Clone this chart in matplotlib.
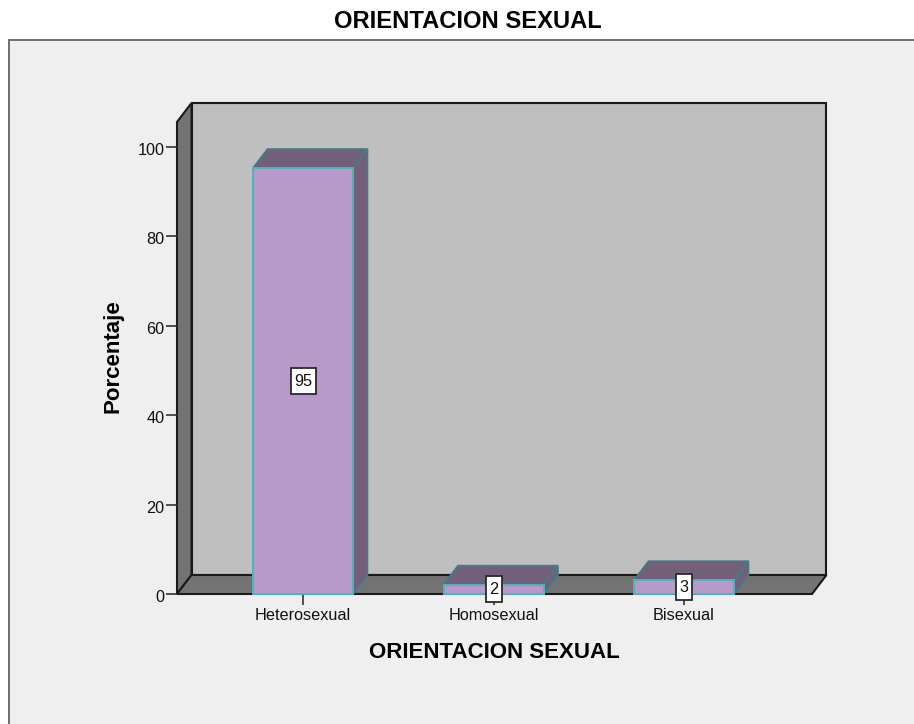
import matplotlib
matplotlib.use("Agg")
import matplotlib.pyplot as plt
from matplotlib.patches import Polygon, Rectangle
from matplotlib.transforms import ScaledTranslation

# datos
categorias = ["Heterosexual", "Homosexual", "Bisexual"]
alturas = [95.3, 2.1, 3.1]
etiquetas = ["95", "2", "3"]
marcas_y = [0, 20, 40, 60, 80, 100]

W, H = 914, 724
plt.rcParams["font.family"] = ["Liberation Sans", "DejaVu Sans"]

fig = plt.figure(figsize=(W / 100, H / 100), dpi=100, facecolor="white")

# marco gris del grafico
fondo = fig.add_axes([0, 0, 1, 1], zorder=0)
fondo.set_xlim(0, W)
fondo.set_ylim(H, 0)
fondo.axis("off")
fondo.add_patch(Rectangle((9, 40), W + 10, H, fc="#efefef", ec="#6e6e6e", lw=1.4))
fondo.text(468, 21, "ORIENTACION SEXUAL", ha="center", va="center", fontsize=17.1,
           fontweight="bold", color="black")

# ejes: cara frontal del cubo en pixeles
izq, der, abajo, arriba = 177, 812, 594, 122
ax = fig.add_axes([izq / W, 1 - abajo / H, (der - izq) / W, (abajo - arriba) / H], zorder=1)
px_x = 190.5
px_y = 4.47
ax.set_xlim((izq - 303) / px_x, (der - 303) / px_x)
ax.set_ylim(0, (abajo - arriba) / px_y)
ax.patch.set_visible(False)
for s in ax.spines.values():
    s.set_visible(False)

x0, x1 = ax.get_xlim()
y1 = ax.get_ylim()[1]
dx = 14.5 / px_x
dy = 19 / px_y
negro = "#1a1a1a"

# paredes y piso
ax.add_patch(Polygon([(x0 + dx, dy), (x1 + dx, dy), (x1 + dx, y1 + dy), (x0 + dx, y1 + dy)],
                     fc="#bfbfbf", ec=negro, lw=1.5, clip_on=False, zorder=1))
ax.add_patch(Polygon([(x0, 0), (x0 + dx, dy), (x0 + dx, y1 + dy), (x0, y1)],
                     fc="#737373", ec=negro, lw=1.5, clip_on=False, zorder=1))
ax.add_patch(Polygon([(x0, 0), (x1, 0), (x1 + dx, dy), (x0 + dx, dy)],
                     fc="#737373", ec=negro, lw=1.5, clip_on=False, zorder=1))

# barras 3D
ancho = 100 / px_x
borde = "#4fb3bd"
borde2 = "#3f7f88"
for i, h in enumerate(alturas):
    a, b = i - ancho / 2, i + ancho / 2
    ax.add_patch(Polygon([(a, h), (b, h), (b + dx, h + dy), (a + dx, h + dy)],
                         fc="#735f7a", ec=borde2, lw=1.2, clip_on=False, zorder=3))
    ax.add_patch(Polygon([(b, 0), (b + dx, dy), (b + dx, h + dy), (b, h)],
                         fc="#735f7a", ec=borde2, lw=1.2, clip_on=False, zorder=3))
    ax.bar(i, h, ancho, color="#b89ac8", edgecolor=borde, linewidth=1.4, zorder=4, clip_on=False)

# etiquetas de valor: caja blanca de 26 px de alto
for i, h in enumerate(alturas):
    caja_w = (7 + 9 * len(etiquetas[i])) / px_x
    caja_h = 26 / px_y
    ax.add_patch(Rectangle((i - caja_w / 2, h / 2 - caja_h / 2), caja_w, caja_h, fc="white",
                           ec="#2a2a2a", lw=1.3, clip_on=False, zorder=6))
    ax.text(i, h / 2, etiquetas[i], ha="center", va="center", fontsize=11.7, color="#111111",
            clip_on=False, zorder=7)

ax.set_xticks(range(len(categorias)))
ax.set_xticklabels(categorias, fontsize=11.7, color="#111111")
ax.set_yticks(marcas_y)
ax.set_yticklabels([str(v) for v in marcas_y], fontsize=11.7, color="#111111")
ax.tick_params(axis="x", length=8, width=1.2, color="#333333", pad=2)
ax.tick_params(axis="y", length=8, width=1.2, color="#333333", pad=1)

# los numeros del eje y van un poco mas abajo que la marca
baja = ScaledTranslation(0, -2 / 100, fig.dpi_scale_trans)
for lbl in ax.get_yticklabels():
    lbl.set_transform(lbl.get_transform() + baja)

ax.set_xlabel("ORIENTACION SEXUAL", fontsize=16, fontweight="bold")
ax.xaxis.set_label_coords((494 - izq) / (der - izq), -(652 - abajo) / (abajo - arriba), transform=ax.transAxes)
ax.xaxis.label.set_va("center")
ax.set_ylabel("Porcentaje", fontsize=16, fontweight="bold")
ax.yaxis.set_label_coords((113 - izq) / (der - izq), (abajo - 356) / (abajo - arriba), transform=ax.transAxes)
ax.yaxis.label.set_va("center")

fig.savefig("out.png", dpi=100)
